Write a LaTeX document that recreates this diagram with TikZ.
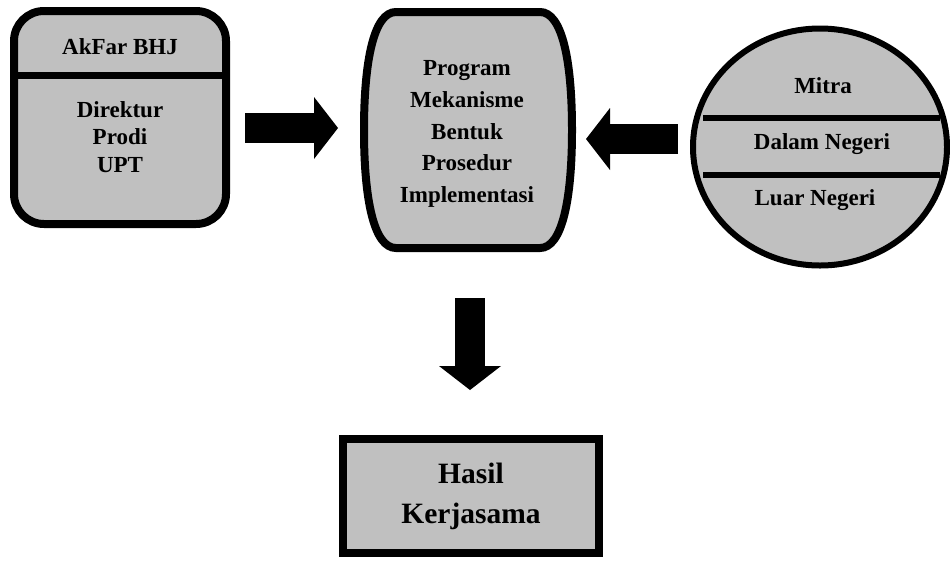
\documentclass[tikz,border=0pt]{standalone}
\usepackage{fontspec}
\setmainfont{Liberation Serif}
\usetikzlibrary{
    shapes.geometric, % For the ellipse
    arrows.meta,      % For arrow tip styles
    positioning       % For relative positioning
}
\definecolor{boxgray}{RGB}{192,192,192}

\begin{document}
\begin{tikzpicture}[
    x=1pt, y=-1pt,
    % Define styles
    unitbox/.style={rectangle, draw, line width=8pt, fill=boxgray, rounded corners=30pt, minimum width=212pt, minimum height=213pt, inner sep=0pt}, % Institution box
    partner/.style={ellipse, draw, line width=6pt, fill=boxgray, minimum width=254pt, minimum height=237pt, inner sep=0pt}, % Partner ellipse
    result/.style={rectangle, draw, line width=8pt, fill=boxgray, minimum width=256pt, minimum height=114pt, align=center, font=\bfseries\fontsize{29.5}{40}\selectfont}, % Result box
    txt/.style={align=center, inner sep=0pt, font=\bfseries\fontsize{23}{27.6}\selectfont}, % Plain text
    divider/.style={line width=7pt}, % Line inside a shape
    blockarrow/.style={line width=30pt, -{Triangle[width=62pt, length=24pt, line width=0pt]}} % Block arrow
]
\useasboundingbox (0,0) rectangle (950,563);

% ----- LEFT: INSTITUTION -----
\node (akfar_box) [unitbox] at (120,117.5) {};
\draw [divider] (14,75) -- (226,75);
\node (akfar_title) [txt] at (120,47) {AkFar BHJ};
\node (akfar_units) [txt] at (120,137) {Direktur\\Prodi\\UPT};

% ----- MIDDLE: PROGRAM -----
\draw [line width=8pt, fill=boxgray]
    (396,12) -- (540,12) .. controls (562,12) and (572,60) .. (572,130)
    .. controls (572,200) and (562,248) .. (540,248) -- (396,248)
    .. controls (374,248) and (364,200) .. (364,130)
    .. controls (364,60) and (374,12) .. (396,12) -- cycle;
\node (program) [txt, font=\bfseries\fontsize{23}{31.75}\selectfont] at (467,134) {Program\\Mekanisme\\Bentuk\\Prosedur\\Implementasi};

% ----- RIGHT: PARTNERS -----
\node (mitra) [partner] at (820,147) {};
\draw [line width=6pt] (703,118) -- (940,118);
\draw [line width=6pt] (703,175) -- (940,175);
\node (mitra_title) [txt] at (823,86) {Mitra};
\node (mitra_dn) [txt] at (822,144) {Dalam Negeri};
\node (mitra_ln) [txt] at (815,200) {Luar Negeri};

% ----- BOTTOM: RESULT -----
\node (hasil) [result] at (471,496) {Hasil\\Kerjasama};

% Draw block arrows
\coordinate (akfar_out) at (245,128);
\coordinate (program_in_l) at (338,128);
\coordinate (mitra_out) at (678,139);
\coordinate (program_in_r) at (586,139);
\coordinate (program_out) at (470,298);
\coordinate (hasil_in) at (470,390);
\draw [blockarrow] (akfar_out) -- (program_in_l);
\draw [blockarrow] (mitra_out) -- (program_in_r);
\draw [blockarrow] (program_out) -- (hasil_in);

\end{tikzpicture}
\end{document}
